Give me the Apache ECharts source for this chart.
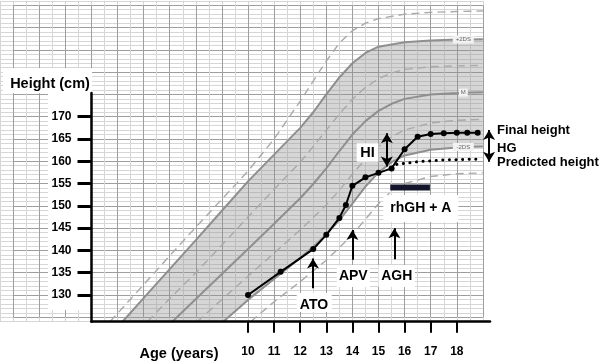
<!DOCTYPE html>
<html><head><meta charset="utf-8">
<script src="https://cdn.jsdelivr.net/npm/echarts@6/dist/echarts.min.js"></script>
<style>html,body{margin:0;padding:0;background:#fff}#c{width:600px;height:363px}</style>
</head><body><div id="c"></div>
<script>
// ---------------- data ----------------
const xTicks = [10, 11, 12, 13, 14, 15, 16, 17, 18];
const yTicks = [130, 135, 140, 145, 150, 155, 160, 165, 170];

// reference curves [age, height]
const sdPlus3 = [[4.71,124],[6,132.3],[7,138.8],[8,145.2],[9,151.5],[10,157.8],[11,165],[12,173.5],[12.5,178],[13,182.5],[13.5,186.5],[14,189.3],[14.5,191],[15,192],[16,193],[17,193.4],[18,193.6],[19,193.7]];
const sdPlus2 = [[5.19,124],[6,129.3],[7,135.8],[8,142.3],[9,148.9],[10,155.5],[11,161.5],[12,167.5],[12.5,171],[13,175],[13.5,178.8],[14,182],[14.5,184.3],[15,185.7],[16,186.7],[17,187.1],[18,187.3],[18.25,187.3],[19,187.4]];
const sdPlus1 = [[6.15,124],[7,129.2],[8,135],[9,141.2],[10,147.5],[11,153.7],[12,159.8],[12.5,163.3],[13,167],[13.5,170.6],[14,173.9],[14.5,176.6],[15,178.5],[15.5,179.8],[16,180.6],[17,181.2],[18,181.4],[19,181.5]];
const median  = [[7.1,124],[8,129.1],[9,134.7],[10,140.3],[11,146],[12,151.7],[12.5,154.9],[13,158.4],[13.5,162.3],[14,166],[14.5,169],[15,171.3],[15.5,172.9],[16,174],[17,175],[18,175.3],[18.25,175.4],[19,175.5]];
const sdMinus1 = [[8.05,124],[9,129],[10,134.2],[11,139.4],[12,144.6],[13,150.2],[13.5,153.5],[14,157.1],[14.5,160.5],[15,163.3],[15.5,165.5],[16,167],[17,168.6],[18,169.2],[19,169.4]];
const sdMinus2 = [[9.05,124],[10,128.9],[11,133.6],[12,138.3],[12.5,140.8],[13,143.6],[13.5,146.8],[14,150.5],[14.5,154.3],[15,157.5],[15.5,159.8],[16,161.3],[17,162.6],[18,163.1],[18.25,163.2],[19,163.3]];
const sdMinus3 = [[10.1,124],[11,128.5],[12,133],[13,137.8],[14,143.5],[14.5,147],[15,150.5],[15.5,153.3],[16,155],[17,156.6],[18,157.2],[19,157.4]];
const curveLabelAge = 18.25;

// patient
const patientAge    = [10, 11.25, 12.5, 13, 13.5, 13.75, 14, 14.5, 15, 15.5, 16, 16.5, 17, 17.5, 18, 18.4, 18.8];
const patientHeight = [130, 135.2, 140.3, 143.5, 147.3, 150.2, 154.5, 156.4, 157.4, 158.4, 162.7, 165.5, 166.1, 166.3, 166.4, 166.4, 166.4];
const predictedAge    = [15.7, 16.5, 17.5, 18.9];
const predictedHeight = [159.3, 159.9, 160.3, 160.5];
const treatmentAge = [15.45, 16.97];
const treatmentLevel = 154.1;

// event arrows
const eventAge  = [12.49, 14.0, 15.61];
const eventFrom = [131.5, 137.9, 138.0];
const eventTo   = [138.2, 144.6, 145.0];
const hiAge = 15.32, hiRange = [158.8, 166.3];
const hgAge = 19.237, hgRange = [159.9, 167.0];

// ---------------- geometry ----------------
const X10 = 248, PXY = 26.1, Y130 = 295, PYC = 4.4575;
const gx = a => X10 + (a - 10) * PXY;
const gy = h => Y130 - (h - 130) * PYC;
const ax = px => 10 + (px - X10) / PXY;
const hy = py => 130 + (Y130 - py) / PYC;
function gridOf(x0, x1, y0, y1) {
  return { left: gx(x0), top: gy(y1), width: gx(x1) - gx(x0), height: gy(y0) - gy(y1),
           containLabel: false, outerBoundsMode: 'none' };
}
const paperMinor = [0.5, 19, 124, 196];
const paperMajor = [1, 19, 125, 195];
const axesBox = [ax(91.5), ax(490), 124, hy(93)];
const plotBox = [ax(0), ax(600), hy(363), hy(0)];

const hidden = { show: false };
function paperAxis(min, max, interval, color) {
  return { type: 'value', min, max, interval, axisLine: hidden, axisTick: hidden, axisLabel: hidden,
           splitLine: { show: true, lineStyle: { color, width: 1 } }, z: 0 };
}
const FONT = '"Liberation Sans", Arial, sans-serif';

const grids = [gridOf(...paperMinor), gridOf(...paperMajor), gridOf(...axesBox), gridOf(...plotBox)];
const xAxes = [
  Object.assign(paperAxis(paperMinor[0], paperMinor[1], 0.5, '#d6d6d6'), { gridIndex: 0 }),
  Object.assign(paperAxis(paperMajor[0], paperMajor[1], 1, '#9e9e9e'), { gridIndex: 1 }),
  { gridIndex: 2, type: 'value', min: axesBox[0], max: axesBox[1], z: 20,
    axisLine: { show: true, lineStyle: { color: '#000', width: 2.5 } },
    axisTick: { show: true, customValues: xTicks, length: 11, lineStyle: { color: '#000', width: 2 } },
    axisLabel: { show: true, customValues: xTicks, margin: 24, color: '#000', fontWeight: 'bold', fontSize: 12, fontFamily: FONT },
    splitLine: hidden },
  { gridIndex: 3, type: 'value', min: plotBox[0], max: plotBox[1], show: false }
];
const yAxes = [
  Object.assign(paperAxis(paperMinor[2], paperMinor[3], 1, '#d6d6d6'), { gridIndex: 0 }),
  Object.assign(paperAxis(paperMajor[2], paperMajor[3], 5, '#9e9e9e'), { gridIndex: 1 }),
  { gridIndex: 2, type: 'value', min: axesBox[2], max: axesBox[3], z: 20,
    axisLine: { show: true, lineStyle: { color: '#000', width: 2.5 } },
    axisTick: { show: true, customValues: yTicks, length: 14, lineStyle: { color: '#000', width: 3 } },
    axisLabel: { show: true, customValues: yTicks, margin: 20, color: '#000', fontWeight: 'bold', fontSize: 12, fontFamily: FONT },
    splitLine: hidden },
  { gridIndex: 3, type: 'value', min: plotBox[2], max: plotBox[3], show: false }
];

function curveSeries(data, name, solid, labelText) {
  const s = {
    type: 'line', xAxisIndex: 3, yAxisIndex: 3, name, z: 3, silent: true,
    showSymbol: false, symbol: 'none',
    lineStyle: solid ? { color: '#8f8f8f', width: 2 } : { color: '#a9a9a9', width: 1.4, type: [8, 5] },
    data: data
  };
  if (labelText) {
    const p = data.find(d => d[0] === curveLabelAge);
    s.markPoint = { silent: true, animation: false,
      data: [{ coord: p, symbol: 'rect', symbolSize: [labelText.length * 4 + 5, 8],
               itemStyle: { color: '#f2f2f2' },
               label: { show: true, position: 'inside', formatter: labelText, fontSize: 6, color: '#666', fontFamily: FONT } }] };
  }
  return s;
}

const series = [
  { type: 'custom', xAxisIndex: 3, yAxisIndex: 3, z: 1, silent: true, data: [0],
    renderItem: (params, api) => {
      const pts = sdPlus2.map(p => api.coord(p)).concat(sdMinus2.slice().reverse().map(p => api.coord(p)));
      return { type: 'polygon', shape: { points: pts }, style: { fill: 'rgba(140,140,140,0.36)' } };
    } },
  curveSeries(sdPlus3, '+3DS', false),
  curveSeries(sdPlus2, '+2DS', true, '+2DS'),
  curveSeries(sdPlus1, '+1DS', false),
  curveSeries(median, 'M', true, 'M'),
  curveSeries(sdMinus1, '-1DS', false),
  curveSeries(sdMinus2, '-2DS', true, '-2DS'),
  curveSeries(sdMinus3, '-3DS', false),
  { type: 'line', name: 'Predicted height', xAxisIndex: 3, yAxisIndex: 3, z: 6, silent: true, symbol: 'none',
    lineStyle: { color: '#000', width: 3, type: [0.1, 6.5], cap: 'round' },
    data: predictedAge.map((a, i) => [a, predictedHeight[i]]) },
  { type: 'line', name: 'Height', xAxisIndex: 3, yAxisIndex: 3, z: 7, silent: true,
    symbol: 'circle', symbolSize: 6, itemStyle: { color: '#000' }, lineStyle: { color: '#000', width: 2 },
    data: patientAge.map((a, i) => [a, patientHeight[i]]) },
  { type: 'line', name: 'rhGH + A', xAxisIndex: 3, yAxisIndex: 3, z: 7, silent: true, symbol: 'none',
    lineStyle: { color: '#14142a', width: 6 },
    data: treatmentAge.map(a => [a, treatmentLevel]) },
  { type: 'line', xAxisIndex: 3, yAxisIndex: 3, z: 15, silent: true, data: [],
    markLine: { silent: true, symbol: ['none', 'arrow'], symbolSize: [9, 10], animation: false,
      label: { show: false }, lineStyle: { color: '#000', width: 2, type: 'solid' },
      data: eventAge.map((a, i) => [{ coord: [a, eventFrom[i]] }, { coord: [a, eventTo[i]] }]) } },
  { type: 'line', xAxisIndex: 3, yAxisIndex: 3, z: 15, silent: true, data: [],
    markLine: { silent: true, symbol: ['arrow', 'arrow'], symbolSize: [9, 10], animation: false,
      label: { show: false }, lineStyle: { color: '#000', width: 2, type: 'solid' },
      data: [[{ coord: [hiAge, hiRange[0]] }, { coord: [hiAge, hiRange[1]] }],
             [{ coord: [hgAge, hgRange[0]] }, { coord: [hgAge, hgRange[1]] }]] } }
];

function box(x0, y0, x1, y1) {
  return { type: 'rect', z: 10, silent: true, shape: { x: x0, y: y0, width: x1 - x0, height: y1 - y0 }, style: { fill: '#fff' } };
}
function txt(text, x, y, size, align) {
  return { type: 'text', z: 12, silent: true, x, y,
    style: { text, fill: '#000', font: 'bold ' + size + 'px ' + FONT, align: align || 'center', verticalAlign: 'middle' } };
}
const graphics = [
  box(3, 68, 92, 93), box(48, 93, 90, 310),
  box(296.7, 293, 331.7, 312), box(336.7, 265, 370, 287), box(378.3, 265, 415, 287),
  box(383.3, 195, 458.3, 222), box(356.7, 143.3, 378.3, 161.7),
  txt('Height (cm)', 50, 83.5, 14.5),
  txt('Age (years)', 179, 354, 14.5),
  txt('ATO', 314, 305, 14), txt('APV', 353.3, 276, 14), txt('AGH', 396.7, 276, 14),
  txt('rhGH + A', 420.8, 208.5, 14), txt('HI', 367.5, 152.5, 14.5),
  txt('Final height', 497, 130.5, 13, 'left'), txt('HG', 497, 148, 13, 'left'),
  txt('Predicted height', 497, 162, 13, 'left')
];

const chart = echarts.init(document.getElementById('c'), null, { renderer: 'canvas' });
chart.setOption({
  animation: false, backgroundColor: '#fff',
  grid: grids, xAxis: xAxes, yAxis: yAxes, series,
  graphic: { elements: graphics }
});
</script></body></html>
